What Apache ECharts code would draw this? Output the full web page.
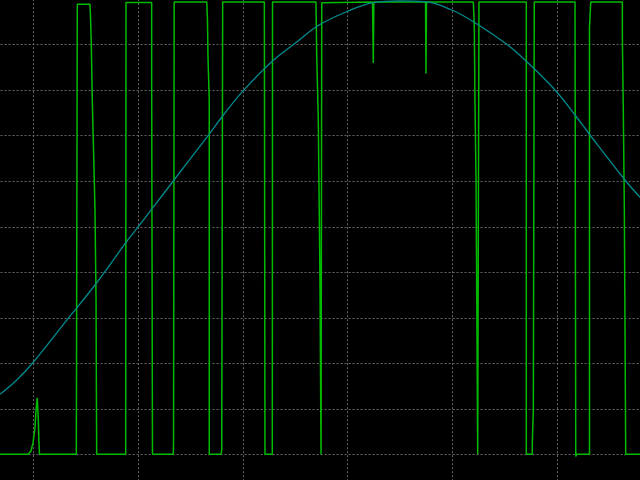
<!DOCTYPE html>
<html>
<head>
<meta charset="utf-8">
<script src="https://cdn.jsdelivr.net/npm/echarts@6/dist/echarts.min.js"></script>
<style>
html,body{margin:0;padding:0;background:#000;}
#chart{width:640px;height:480px;}
</style>
</head>
<body>
<div id="chart"></div>
<script>
// Time axis in divisions, amplitude axis in divisions
var xDivisions = [0, 7];
var yDivisions = [-1, 10];

// Digital (square-wave) channel: [time, level]
var digitalSignal = [
  [0.682,0],[0.949,0],[0.978,0.07],[0.997,0.25],[1.016,0.58],[1.026,0.97],[1.038,1.24],[1.048,0.75],[1.053,0.31],[1.059,0],
  [1.411,0],[1.411,0.05],[1.420,0.05],[1.420,9.89],[1.541,9.89],[1.546,9.63],[1.554,8.99],[1.563,7.79],[1.575,6.69],[1.589,5.37],[1.599,3.39],[1.605,0],
  [1.882,0],[1.885,9.93],[2.130,9.93],[2.130,8.29],[2.138,0],
  [2.337,0],[2.339,0.27],[2.345,9.94],[2.656,9.94],[2.663,9.54],[2.668,8.71],[2.680,7.79],[2.680,0],
  [2.792,0],[2.799,0.09],[2.808,9.94],[3.206,9.94],[3.212,0],
  [3.282,0],[3.284,9.94],[3.699,9.94],[3.706,8.77],[3.721,7.35],[3.737,3.83],[3.747,0],[3.754,9.92],
  [4.239,9.94],[4.246,8.60],[4.251,9.94],[4.745,9.94],[4.749,8.37],[4.754,9.94],
  [5.201,9.94],[5.210,9.48],[5.217,7.72],[5.227,6.03],[5.234,3.39],[5.243,0],[5.249,0],[5.255,9.94],
  [5.707,9.94],[5.707,0],[5.764,0],[5.764,0.23],[5.774,0.97],[5.783,9.94],
  [6.172,9.94],[6.179,-0.05],[6.188,0],[6.310,0],[6.310,9.37],[6.322,9.94],[6.624,9.94],[6.624,9.18],[6.633,7.57],[6.643,5.37],[6.656,0],[6.793,0]
];

// Analog (sine-like) channel: [time, level]
var analogSignal = [
  [0.682,1.318],[0.842,1.633],[1.000,2.022],[1.341,3.010],[1.420,3.230],[1.589,3.720],[1.684,4.012],[1.885,4.658],
  [2.002,5.001],[2.136,5.402],[2.358,6.071],[2.656,6.966],[2.808,7.434],[3.005,7.990],[3.276,8.627],[3.515,9.059],
  [3.721,9.422],[3.992,9.725],[4.246,9.923],[4.501,9.965],[4.740,9.945],[4.995,9.763],[5.217,9.484],[5.520,9.009],
  [5.711,8.627],[5.981,8.005],[6.172,7.456],[6.315,7.016],[6.649,6.027],[6.793,5.647]
];

var chart = echarts.init(document.getElementById('chart'), null, {renderer: 'canvas'});
var gridLine = {show: true, lineStyle: {color: '#666666', width: 1, type: [2, 2]}};
chart.setOption({
  backgroundColor: '#000000',
  animation: false,
  grid: {left: -71.44, right: -21.74, top: -0.8, bottom: -19.81, outerBoundsMode: 'none'},
  xAxis: {
    type: 'value', min: xDivisions[0], max: xDivisions[1], interval: 1,
    axisLine: {show: false}, axisTick: {show: false}, axisLabel: {show: false},
    splitLine: gridLine
  },
  yAxis: {
    type: 'value', min: yDivisions[0], max: yDivisions[1], interval: 1,
    axisLine: {show: false}, axisTick: {show: false}, axisLabel: {show: false},
    splitLine: gridLine
  },
  series: [
    {
      type: 'line', data: digitalSignal, showSymbol: false, symbol: 'none',
      lineStyle: {color: '#00bb00', width: 1.5}, z: 2
    },
    {
      type: 'line', data: analogSignal, showSymbol: false, symbol: 'none', smooth: 0.4,
      lineStyle: {color: '#008b8f', width: 1.3}, z: 3
    }
  ]
});
</script>
</body>
</html>
